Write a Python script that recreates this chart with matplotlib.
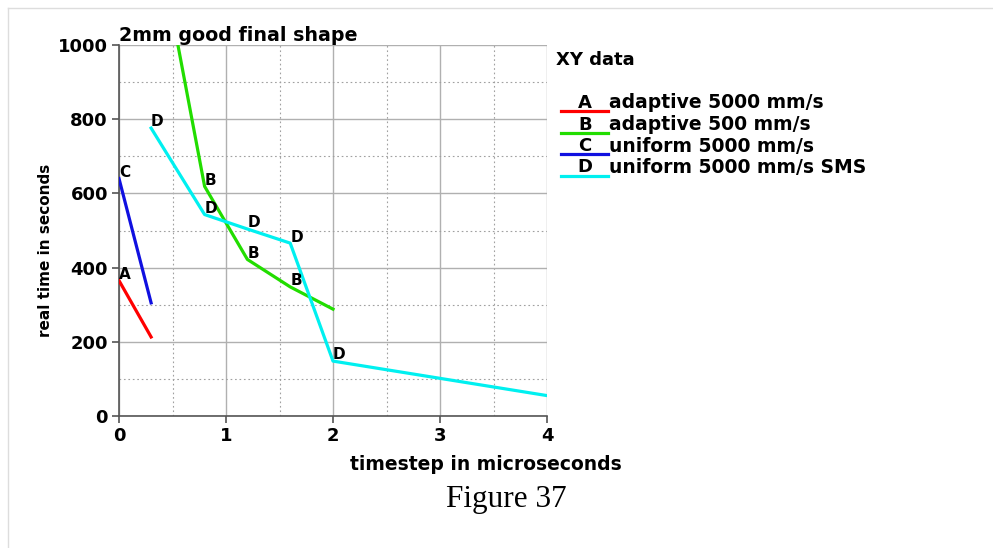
import matplotlib.pyplot as plt
from matplotlib.lines import Line2D
from matplotlib.ticker import MultipleLocator

plt.rcParams["font.family"] = ["DejaVu Sans"]
plt.rcParams["font.weight"] = "bold"

# series (timestep in microseconds, real time in seconds)
a_x = [0.0, 0.3]
a_y = [365, 213]
b_x = [0.4, 0.8, 1.2, 1.6, 2.0]
b_y = [1230, 619, 422, 348, 288]
c_x = [0.0, 0.3]
c_y = [640, 305]
d_x = [0.3, 0.8, 1.2, 1.6, 2.0, 4.0]
d_y = [776, 543, 504, 466, 148, 55]

series = [
    ("A", "adaptive 5000 mm/s", a_x, a_y, "#ff0000"),
    ("B", "adaptive 500 mm/s", b_x, b_y, "#22dd00"),
    ("C", "uniform 5000 mm/s", c_x, c_y, "#1010e0"),
    ("D", "uniform 5000 mm/s SMS", d_x, d_y, "#00f0f0"),
]

fig = plt.figure(figsize=(9.93, 5.48), dpi=100)
ax = fig.add_axes([119 / 993, 1 - 416 / 548, 428 / 993, 371 / 548])

for letter, name, xs, ys, col in series:
    ax.plot(xs, ys, color=col, lw=2.3, clip_on=True, zorder=3)
    for x, y in zip(xs[:-1], ys[:-1]):
        if y <= 1000:
            ax.annotate(letter, (x, y), xytext=(0, -1), textcoords="offset points",
                        ha="left", va="bottom", fontsize=11, fontweight="bold",
                        zorder=4)

ax.set_xlim(0, 4)
ax.set_ylim(0, 1000)
ax.xaxis.set_major_locator(MultipleLocator(1))
ax.xaxis.set_minor_locator(MultipleLocator(0.5))
ax.yaxis.set_major_locator(MultipleLocator(200))
ax.yaxis.set_minor_locator(MultipleLocator(100))
ax.grid(which="major", color="#b0b0b0", lw=1.0, ls="-")
ax.grid(which="minor", color="#a0a0a0", lw=0.8, ls=(0, (1.5, 2.5)))
for s in ["top", "right"]:
    ax.spines[s].set_visible(False)
for s in ["left", "bottom"]:
    ax.spines[s].set_color("#555555")
    ax.spines[s].set_linewidth(1.2)
ax.tick_params(which="major", length=5, width=1.2, color="#555555", labelsize=13, pad=3)
ax.tick_params(which="minor", length=0)
for lab in ax.get_xticklabels() + ax.get_yticklabels():
    lab.set_fontweight("bold")

ax.set_xlabel("timestep in microseconds", fontsize=13.5, fontweight="bold")
ax.xaxis.set_label_coords(0.857, -0.105)
ax.set_ylabel("real time in seconds", fontsize=11, fontweight="bold")
ax.yaxis.set_label_coords(-0.155, 0.447)
ax.set_title("2mm good final shape", fontsize=13.7, fontweight="bold", loc="left", pad=2)

# legend block
fig.text(556 / 993, 1 - 60 / 548, "XY data", fontsize=13, fontweight="bold", va="center")
for i, (letter, name, xs, ys, col) in enumerate(series):
    yc = 1 - (103 + i * 21.5) / 548
    yl = yc - 8 / 548
    fig.add_artist(Line2D([561 / 993, 608 / 993], [yl, yl], color=col, lw=2.3))
    fig.text(585 / 993, yc, letter, fontsize=13, fontweight="bold", ha="center", va="center")
    fig.text(609 / 993, yc, name, fontsize=13.5, fontweight="bold", ha="left", va="center")

fig.text(506 / 993, 1 - 500 / 548, "Figure 37", fontsize=22.5, fontweight="normal",
         family="Liberation Serif", ha="center", va="center")

# thin page border
fig.add_artist(Line2D([8 / 993, 8 / 993], [0, 1 - 8 / 548], color="#dddddd", lw=1))
fig.add_artist(Line2D([8 / 993, 1], [1 - 8 / 548, 1 - 8 / 548], color="#dddddd", lw=1))

fig.savefig("out.png", dpi=100)
